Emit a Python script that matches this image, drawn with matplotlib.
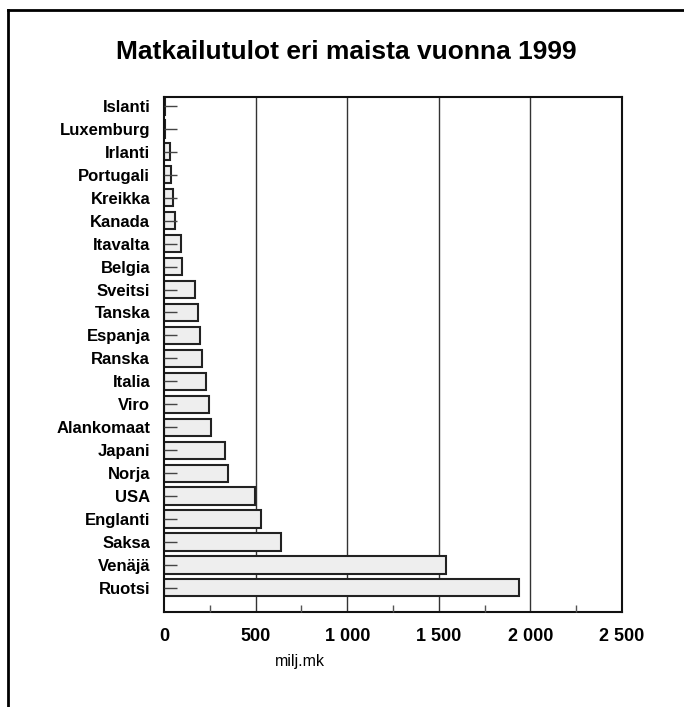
import matplotlib.pyplot as plt
from matplotlib.lines import Line2D
from matplotlib.ticker import MultipleLocator, FuncFormatter

# countries from bottom to top
maat = ["Ruotsi", "Venäjä", "Saksa", "Englanti", "USA", "Norja", "Japani",
        "Alankomaat", "Viro", "Italia", "Ranska", "Espanja", "Tanska",
        "Sveitsi", "Belgia", "Itavalta", "Kanada", "Kreikka", "Portugali",
        "Irlanti", "Luxemburg", "Islanti"]
tulot = [1936, 1538, 636, 529, 498, 349, 333,
         256, 247, 231, 205, 196, 185,
         171, 98, 91, 58, 49, 36,
         33, 7, 8]
x_ticks = [0, 500, 1000, 1500, 2000, 2500]

plt.rcParams['font.family'] = ['Liberation Sans', 'DejaVu Sans']

fig = plt.figure(figsize=(6.84, 7.07), dpi=100)
ax = fig.add_axes([0.2398, 0.1344, 0.6696, 0.7284])

pos = list(range(len(maat)))
ax.barh(pos, tulot, height=0.75, color='#eeeeee', edgecolor='#222222',
        linewidth=1.5, zorder=2)

# gridlines behind bars, ticks in front
for v in x_ticks[1:-1]:
    ax.axvline(v, color='#333333', linewidth=1.0, zorder=1)
ax.set_axisbelow(False)

ax.set_xlim(0, 2500)
ax.set_ylim(-1.05, len(maat) - 1 + 0.39)

ax.set_xticks(x_ticks)
ax.xaxis.set_minor_locator(MultipleLocator(250))
ax.xaxis.set_major_formatter(FuncFormatter(lambda v, p: f"{int(v):,}".replace(",", " ")))
ax.tick_params(axis='x', which='major', length=0, pad=11.5, labelsize=13)
ax.tick_params(axis='x', which='minor', direction='in', length=5, width=1, color='#555555')
for lab in ax.get_xticklabels():
    lab.set_fontweight('bold')

ax.set_yticks(pos)
ax.set_yticklabels(maat, fontweight='bold', fontsize=12)
ax.tick_params(axis='y', direction='in', length=9, width=1, color='#444444', pad=10)

for s in ax.spines.values():
    s.set_linewidth(1.5)
    s.set_color('#111111')

fig.text(0.506, 0.926, "Matkailutulot eri maista vuonna 1999", ha='center', va='center',
         fontsize=19, fontweight='bold')
fig.text(0.439, 0.065, "milj.mk", ha='center', va='center', fontsize=11.5)

# frame lines of the original picture
fig.add_artist(Line2D([0.012, 1.0], [0.986, 0.986], color='black', linewidth=2,
                      transform=fig.transFigure))
fig.add_artist(Line2D([0.012, 0.012], [0.0, 0.986], color='black', linewidth=2,
                      transform=fig.transFigure))

fig.savefig("out.png", dpi=100)
